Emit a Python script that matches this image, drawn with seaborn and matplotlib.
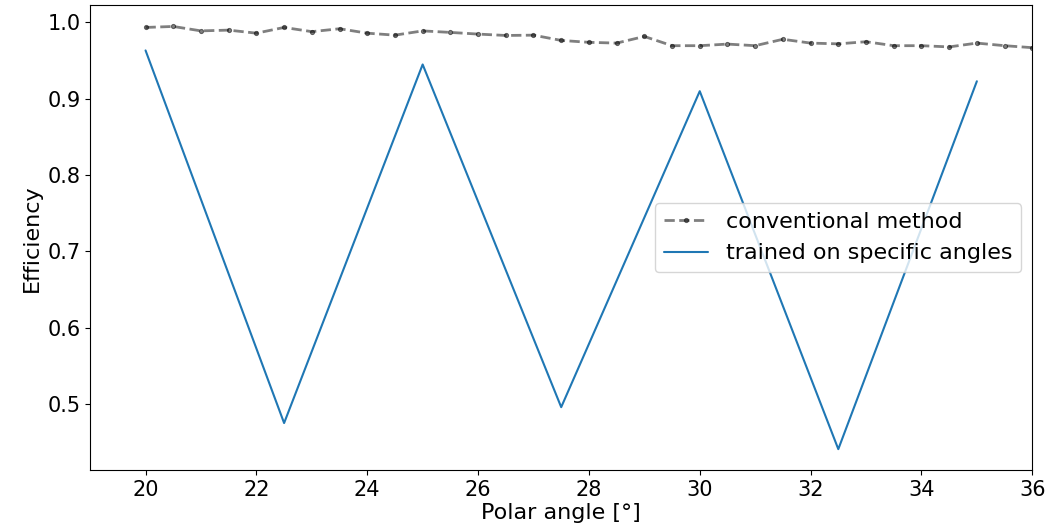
import numpy as np
import pandas as pd
import matplotlib
matplotlib.use("Agg")
import matplotlib.pyplot as plt
import seaborn as sns

conv_angles = [20, 20.5, 21, 21.5, 22, 22.5, 23, 23.5, 24, 24.5, 25, 25.5, 26, 26.5, 27, 27.5,
               28, 28.5, 29, 29.5, 30, 30.5, 31, 31.5, 32, 32.5, 33, 33.5, 34, 34.5, 35, 35.5, 36]
conv_eff = [0.9935, 0.9948, 0.989, 0.990, 0.986, 0.9935, 0.988, 0.9918, 0.986, 0.9834, 0.989,
            0.987, 0.9848, 0.983, 0.9834, 0.9765, 0.974, 0.973, 0.9817, 0.9696, 0.9696, 0.9717,
            0.9696, 0.978, 0.973, 0.972, 0.9748, 0.9696, 0.9696, 0.968, 0.973, 0.9696, 0.967]
trained_angles = [20, 22.5, 25, 27.5, 30, 32.5, 35]
trained_eff = [0.9634, 0.4752, 0.945, 0.496, 0.910, 0.441, 0.923]

sns.set_style("white")
plt.rcParams['font.family'] = ['DejaVu Sans']
plt.rcParams['text.color'] = 'black'
plt.rcParams['axes.labelcolor'] = 'black'
plt.rcParams['xtick.color'] = 'black'
plt.rcParams['ytick.color'] = 'black'
fig, ax = plt.subplots(figsize=(10.48, 5.32), dpi=100)

df_c = pd.DataFrame({"angle": conv_angles, "eff": conv_eff})
df_t = pd.DataFrame({"angle": trained_angles, "eff": trained_eff})
sns.lineplot(data=df_c, x="angle", y="eff", ax=ax, color="black", alpha=0.5,
             linestyle="--", marker=".", markersize=6, linewidth=2,
             markeredgecolor="black", label="conventional method")
sns.lineplot(data=df_t, x="angle", y="eff", ax=ax, color="#1f77b4",
             linewidth=1.5, label="trained on specific angles")

ax.set_xlim(19, 36)
ax.set_xticks(range(20, 37, 2))
ax.set_xlabel("Polar angle [°]", fontsize=16, labelpad=2)
ax.set_ylabel("Efficiency", fontsize=16)
ax.tick_params(labelsize=15, left=True, bottom=True, length=3.5, colors="black")
for s in ax.spines.values():
    s.set_color("black")
leg = ax.legend(loc="center right", fontsize=16)
fig.subplots_adjust(left=0.086, right=0.985, top=0.99, bottom=0.116)
fig.savefig("out.png", dpi=100)
